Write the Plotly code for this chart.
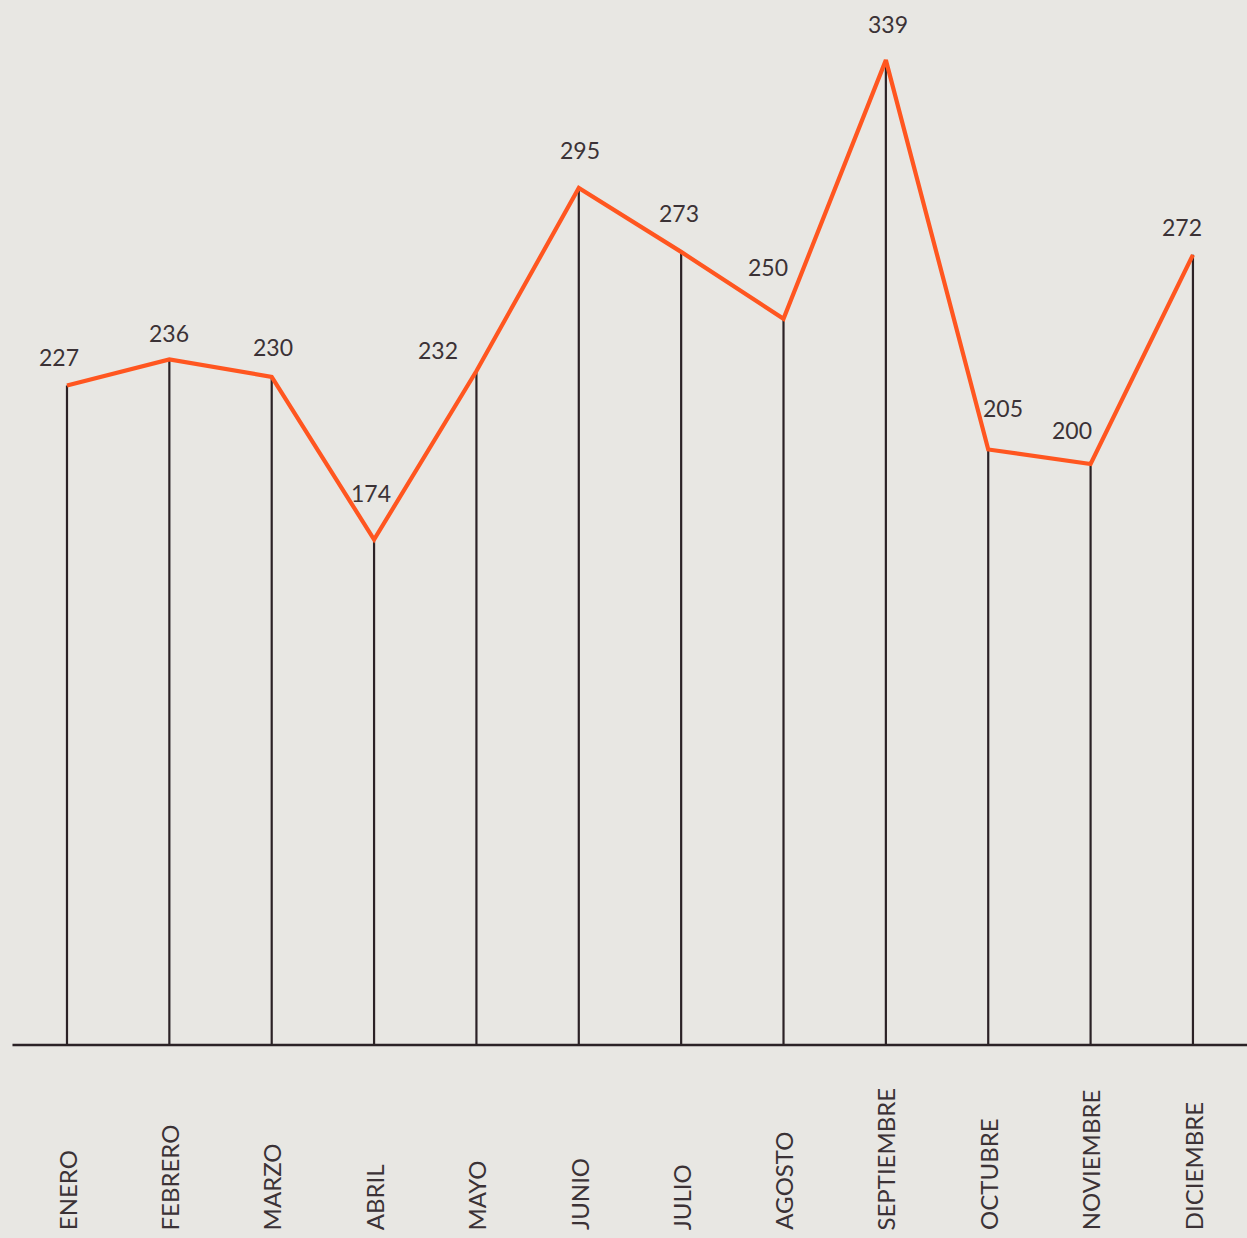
import plotly.graph_objects as go

months = ["ENERO", "FEBRERO", "MARZO", "ABRIL", "MAYO", "JUNIO", "JULIO",
          "AGOSTO", "SEPTIEMBRE", "OCTUBRE", "NOVIEMBRE", "DICIEMBRE"]
values = [227, 236, 230, 174, 232, 295, 273, 250, 339, 205, 200, 272]

# label offsets in pixels (dx, dy) relative to each point
label_dx = [-8, 0, 1, -3, -38, 1, -2, -16, 2, 15, -19, -11]
label_dy = [29, 26, 30, 47, 21, 38, 39, 52, 36, 41, 34, 28]

BG = "#e8e7e3"
INK = "#2b2226"
TEXT = "#3b3236"
ORANGE = "#ff5620"
FONT = "Lato"

idx = list(range(len(months)))

# vertical stems from the baseline to each value
stem_x, stem_y = [], []
for i, v in zip(idx, values):
    stem_x += [i, i, None]
    stem_y += [0, v, None]

fig = go.Figure()
fig.add_trace(go.Scatter(
    x=stem_x, y=stem_y, mode="lines",
    line=dict(color=INK, width=2.2),
    hoverinfo="skip", showlegend=False,
))
fig.add_trace(go.Scatter(
    x=idx, y=values, mode="lines",
    line=dict(color=ORANGE, width=4.2),
    showlegend=False,
))

# baseline
fig.add_shape(type="line", xref="paper", yref="y",
              x0=0.01, x1=1, y0=0, y1=0,
              line=dict(color=INK, width=2.5))

for i, v, dx, dy in zip(idx, values, label_dx, label_dy):
    fig.add_annotation(
        x=i, y=v, text=str(v), showarrow=False,
        xshift=dx, yshift=dy,
        font=dict(family=FONT, size=23, color=TEXT),
    )

for i, m in zip(idx, months):
    fig.add_annotation(
        x=i, y=-64.4, text=m, showarrow=False,
        textangle=-90, yanchor="bottom", xanchor="center",
        font=dict(family=FONT, size=24, color=TEXT),
    )

fig.update_layout(
    width=1247, height=1238,
    margin=dict(l=0, r=0, t=0, b=0),
    paper_bgcolor=BG, plot_bgcolor=BG,
    xaxis=dict(range=[-0.6545, 11.528], visible=False, fixedrange=True),
    yaxis=dict(range=[-66.4, 359.7], visible=False, fixedrange=True),
)

fig.write_html(
    "out.html",
    config={"displayModeBar": False},
    post_script="document.body.style.margin='0';document.body.style.overflow='hidden';",
)
